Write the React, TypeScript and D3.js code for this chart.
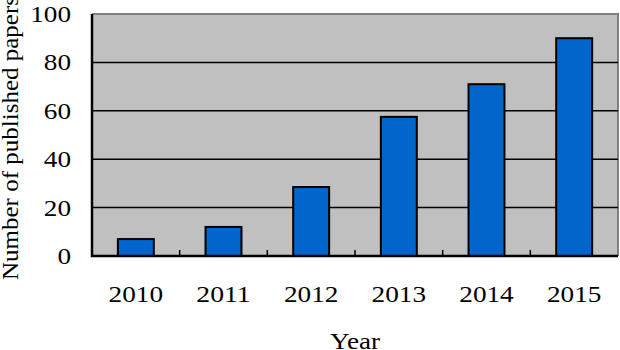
import { useEffect, useRef } from "react";
import * as d3 from "d3";

const years = ["2010", "2011", "2012", "2013", "2014", "2015"];
const papers = [7, 12, 28.5, 57.5, 71, 90];
const yTicks = [0, 20, 40, 60, 80, 100];

const W = 620;
const H = 350;
const margin = { top: 14, right: 2, bottom: 94, left: 92 };
const font = "'Liberation Serif', 'Times New Roman', serif";
const digitW = 13.6; // reference glyphs are a bit wider than the font's natural width

export default function App() {
  const ref = useRef<SVGSVGElement>(null);

  useEffect(() => {
    const svg = d3.select(ref.current);
    svg.selectAll("*").remove();
    const iw = W - margin.left - margin.right;
    const ih = H - margin.top - margin.bottom;

    const x = d3.scaleBand().domain(years).range([0, iw]).paddingInner(0).paddingOuter(0);
    const y = d3.scaleLinear().domain([0, 100]).range([ih, 0]);

    const g = svg.append("g").attr("transform", `translate(${margin.left},${margin.top})`);

    // plot background
    g.append("rect").attr("x", 0).attr("y", 0).attr("width", iw).attr("height", ih).attr("fill", "#c0c0c0");

    // gray top/right border
    g.append("path")
      .attr("d", `M0,0H${iw}V${ih}`)
      .attr("fill", "none")
      .attr("stroke", "#808080")
      .attr("stroke-width", 2);

    // gridlines
    g.selectAll(".grid")
      .data(yTicks.filter((t) => t > 0 && t < 100))
      .join("line")
      .attr("x1", 0)
      .attr("x2", iw)
      .attr("y1", (d) => y(d))
      .attr("y2", (d) => y(d))
      .attr("stroke", "#000")
      .attr("stroke-width", 1.5);

    // bars
    const bw = x.bandwidth() * 0.41;
    g.selectAll(".bar")
      .data(papers)
      .join("rect")
      .attr("x", (_, i) => x(years[i])! + x.bandwidth() / 2 - bw / 2)
      .attr("y", (d) => y(d))
      .attr("width", bw)
      .attr("height", (d) => ih - y(d))
      .attr("fill", "#0066cc")
      .attr("stroke", "#000")
      .attr("stroke-width", 2);

    // category separator ticks
    g.selectAll(".sep")
      .data(years.slice(1))
      .join("line")
      .attr("x1", (d) => x(d)!)
      .attr("x2", (d) => x(d)!)
      .attr("y1", ih)
      .attr("y2", ih - 6)
      .attr("stroke", "#000")
      .attr("stroke-width", 1.5);

    // axes lines
    g.append("path")
      .attr("d", `M0,0V${ih}H${iw}`)
      .attr("fill", "none")
      .attr("stroke", "#000")
      .attr("stroke-width", 2.5);

    // y tick labels
    g.selectAll(".ylab")
      .data(yTicks)
      .join("text")
      .attr("x", -21)
      .attr("y", (d) => y(d))
      .attr("dy", "0.33em")
      .attr("text-anchor", "end")
      .attr("font-family", font)
      .attr("font-size", 24)
      .attr("textLength", (d) => String(d).length * digitW)
      .attr("lengthAdjust", "spacingAndGlyphs")
      .text((d) => d);

    // x tick labels
    g.selectAll(".xlab")
      .data(years)
      .join("text")
      .attr("x", (d) => x(d)! + x.bandwidth() / 2)
      .attr("y", ih + 46)
      .attr("text-anchor", "middle")
      .attr("font-family", font)
      .attr("font-size", 24)
      .attr("textLength", (d) => d.length * digitW)
      .attr("lengthAdjust", "spacingAndGlyphs")
      .text((d) => d);

    // axis titles
    g.append("text")
      .attr("x", iw / 2)
      .attr("y", ih + 93)
      .attr("text-anchor", "middle")
      .attr("font-family", font)
      .attr("font-size", 24)
      .attr("textLength", 50)
      .attr("lengthAdjust", "spacingAndGlyphs")
      .text("Year");

    svg.append("text")
      .attr("transform", `translate(18,${margin.top + ih / 2 + 3}) rotate(-90)`)
      .attr("text-anchor", "middle")
      .attr("font-family", font)
      .attr("font-size", 24)
      .attr("textLength", 284)
      .attr("lengthAdjust", "spacingAndGlyphs")
      .text("Number of published papers");
  }, []);

  return (
    <svg
      ref={ref}
      width={W}
      height={H}
      style={{ position: "fixed", left: 0, top: 0, background: "#fff" }}
    />
  );
}
